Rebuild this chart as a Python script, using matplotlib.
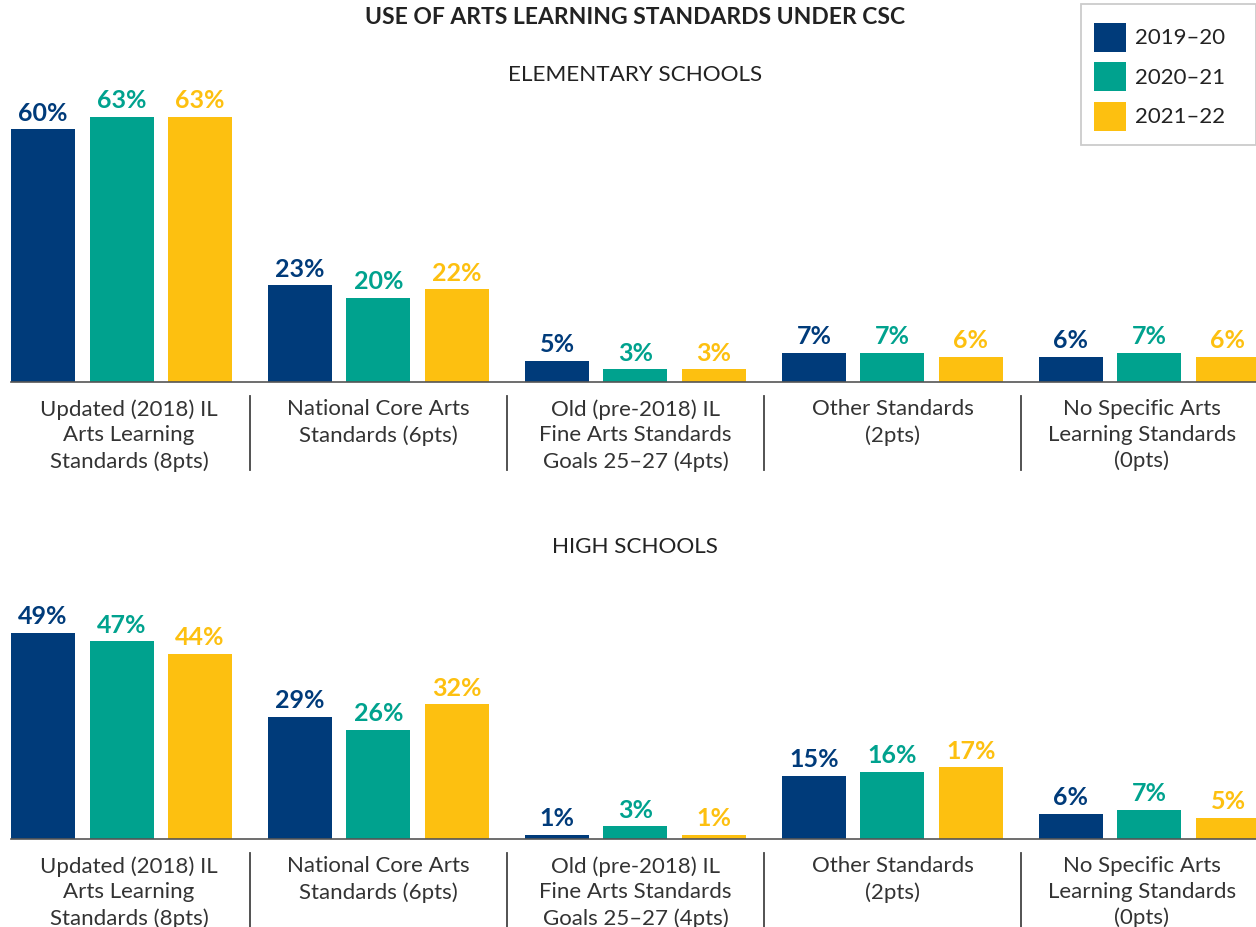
import numpy as np
import matplotlib
matplotlib.use("Agg")
import matplotlib.pyplot as plt
import matplotlib.transforms as mtransforms
from matplotlib.patches import Rectangle

plt.rcParams['font.family'] = ['Lato', 'DejaVu Sans']

# data
years = ['2019–20', '2020–21', '2021–22']
categories = [
    'Updated (2018) IL\nArts Learning\nStandards (8pts)',
    'National Core Arts\nStandards (6pts)',
    'Old (pre-2018) IL\nFine Arts Standards\nGoals 25–27 (4pts)',
    'Other Standards\n(2pts)',
    'No Specific Arts\nLearning Standards\n(0pts)',
]
elem_1920 = [60, 23, 5, 7, 6]
elem_2021 = [63, 20, 3, 7, 7]
elem_2122 = [63, 22, 3, 6, 6]
high_1920 = [49, 29, 1, 15, 6]
high_2021 = [47, 26, 3, 16, 7]
high_2122 = [44, 32, 1, 17, 5]

colors = ['#003B7A', '#00A28E', '#FDC010']
text_dark = '#333333'

W, H = 1256, 928
fig = plt.figure(figsize=(W / 100, H / 100), dpi=100)

# pixel geometry: group step 257px, bar width 64px, bar step 78.5px
group_px = 257.0
first_center_px = 121.5
bar_w = 64 / group_px
bar_step = 78.5 / group_px
px_per_pct = 4.21
ymax = 70
left_px = 11
x_left = (left_px - first_center_px) / group_px
x_right = (W - first_center_px) / group_px
# outer labels sit centred in their (clipped) cells, not under the bars
label_shift_px = [7.5, 0, 0, 0, -7.5]


def draw_panel(baseline_px, series, subtitle, subtitle_y):
    ax_h = ymax * px_per_pct
    ax = fig.add_axes([left_px / W, 1 - baseline_px / H, (W - left_px) / W, ax_h / H])
    x = np.arange(len(categories))
    for i, vals in enumerate(series):
        pos = x + (i - 1) * bar_step
        ax.bar(pos, vals, width=bar_w, color=colors[i], zorder=2)
        for p, v in zip(pos, vals):
            ax.annotate(f'{v}%', (p, v), xytext=(0, 4), textcoords='offset points',
                        ha='center', va='bottom', fontsize=18, fontweight='bold',
                        color=colors[i], annotation_clip=False)
    ax.set_xlim(x_left, x_right)
    ax.set_ylim(0, ymax)
    ax.set_yticks([])
    for s in ['top', 'right', 'left']:
        ax.spines[s].set_visible(False)
    ax.spines['bottom'].set_color('#555555')
    ax.spines['bottom'].set_linewidth(1.2)
    ax.set_xticks(x + np.array(label_shift_px) / group_px)
    ax.set_xticklabels(categories, fontsize=16, color=text_dark, linespacing=1.36)
    ax.tick_params(axis='x', length=0, pad=11.5)
    ax.patch.set_alpha(0)

    # separators between groups
    trans = mtransforms.blended_transform_factory(ax.transData, ax.transAxes)
    y0 = -14 / ax_h
    y1 = -88 / ax_h
    for k in range(len(categories) - 1):
        ax.plot([k + 0.5, k + 0.5], [y0, y1], transform=trans, color='#444444',
                lw=1.3, clip_on=False)

    fig.text(635 / W, 1 - subtitle_y / H, subtitle, ha='center', va='center',
             fontsize=16.2, color='#222222')
    return ax


draw_panel(383, [elem_1920, elem_2021, elem_2122], 'ELEMENTARY SCHOOLS', 75)
draw_panel(840, [high_1920, high_2021, high_2122], 'HIGH SCHOOLS', 547)

fig.text(635 / W, 1 - 17 / H, 'USE OF ARTS LEARNING STANDARDS UNDER CSC',
         ha='center', va='center', fontsize=16.5, fontweight='bold', color='#222222')

# legend box, drawn by hand in pixel units
def px(xp, yp):
    return xp / W, 1 - yp / H

fig.add_artist(Rectangle(px(1081, 146), 175 / W, 141 / H, transform=fig.transFigure,
                         facecolor='white', edgecolor='#cccccc', lw=1.3, zorder=5))
for i, (yr, c) in enumerate(zip(years, colors)):
    yc = 38 + i * 39.5
    fig.add_artist(Rectangle(px(1094, yc + 14.5), 32 / W, 29 / H,
                             transform=fig.transFigure, facecolor=c,
                             edgecolor='none', zorder=6))
    fig.text(*px(1135, yc), yr, ha='left', va='center', fontsize=16,
             color='#222222', zorder=7)

fig.savefig('out.png', dpi=100)
